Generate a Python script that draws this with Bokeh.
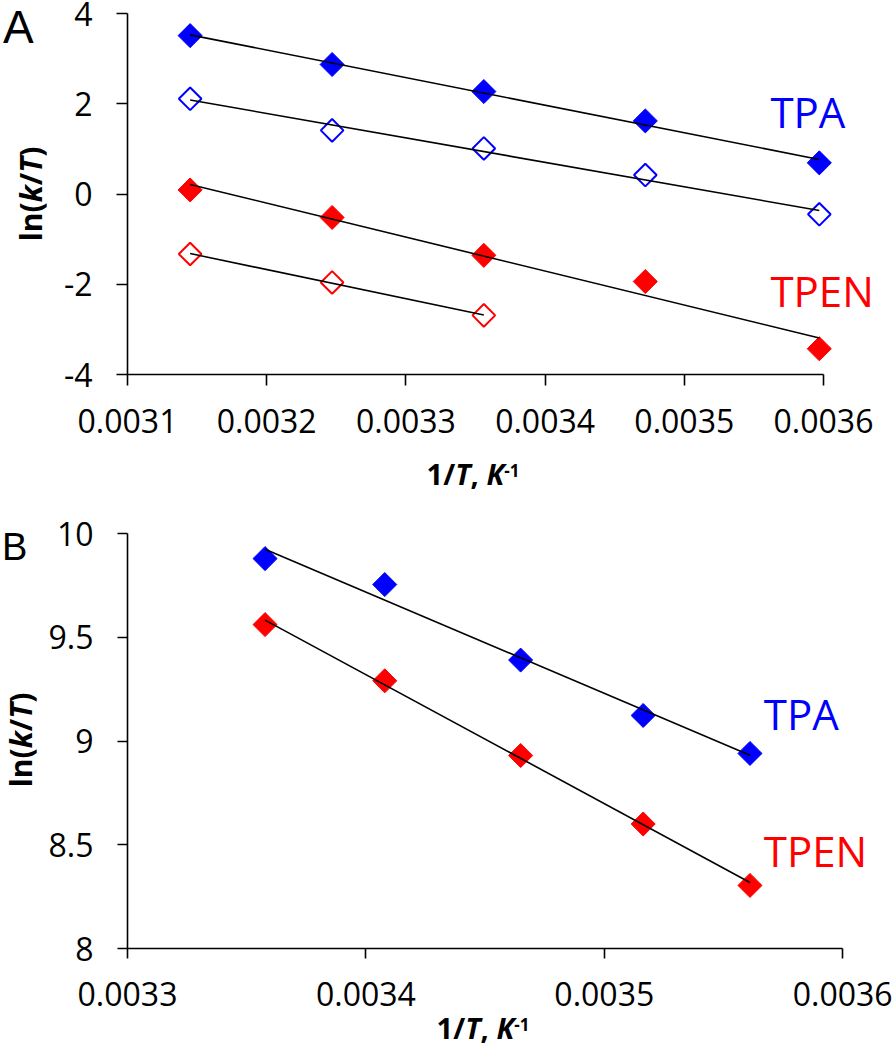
import numpy as np
from bokeh.plotting import figure
from bokeh.layouts import column
from bokeh.models import FixedTicker, Label, Div
from bokeh.embed import file_html
from bokeh.resources import INLINE

# ---------------- data ----------------
# Panel A
a_x = [0.003145, 0.003247, 0.003356, 0.003472, 0.003597]
a_tpa_filled = [3.51, 2.87, 2.27, 1.62, 0.69]
a_tpa_open = [2.11, 1.41, 1.01, 0.42, -0.45]
a_tpen_filled = [0.09, -0.52, -1.36, -1.94, -3.43]
a_tpen_open_x = [0.003145, 0.003247, 0.003356]
a_tpen_open = [-1.33, -1.96, -2.69]

a_xticks = [0.0031, 0.0032, 0.0033, 0.0034, 0.0035, 0.0036]
a_xtick_labels = ["0.0031", "0.0032", "0.0033", "0.0034", "0.0035", "0.0036"]
a_yticks = [-4, -2, 0, 2, 4]
a_ytick_labels = ["-4", "-2", "0", "2", "4"]

# Panel B
b_x = [0.0033577, 0.0034079, 0.0034649, 0.0035163, 0.0035611]
b_tpa = [9.879, 9.754, 9.39, 9.123, 8.94]
b_tpen = [9.561, 9.29, 8.93, 8.60, 8.304]

b_xticks = [0.0033, 0.0034, 0.0035, 0.0036]
b_xtick_labels = ["0.0033", "0.0034", "0.0035", "0.0036"]
b_yticks = [8, 8.5, 9, 9.5, 10]
b_ytick_labels = ["8", "8.5", "9", "9.5", "10"]

BLUE = "#0000FF"
RED = "#FF0000"
FONT = "Open Sans"


def style_axes(p, xticks, xlabels, yticks, ylabels, xbounds, tick_out):
    for ax in (p.xaxis[0], p.yaxis[0]):
        ax.axis_line_color = "black"
        ax.axis_line_width = 1.6
        ax.major_tick_line_color = "black"
        ax.major_tick_line_width = 1.6
        ax.major_tick_in = 0
        ax.major_tick_out = tick_out
        ax.minor_tick_in = 0
        ax.minor_tick_out = 0
        ax.major_label_text_font = FONT
        ax.major_label_text_font_size = "32px"
        ax.major_label_text_color = "black"
        ax.axis_label = None
    p.xaxis[0].ticker = FixedTicker(ticks=xticks)
    p.xaxis[0].major_label_overrides = dict(zip(xticks, xlabels))
    p.xaxis[0].bounds = xbounds
    p.xaxis[0].major_label_standoff = 23
    p.yaxis[0].ticker = FixedTicker(ticks=yticks)
    p.yaxis[0].major_label_overrides = dict(zip(yticks, ylabels))
    p.yaxis[0].major_label_standoff = 24
    p.xgrid.visible = False
    p.ygrid.visible = False
    p.outline_line_color = None
    p.background_fill_color = "white"
    p.border_fill_color = "white"


def fit_line(p, xs, ys):
    k, b = np.polyfit(xs, ys, 1)
    x0, x1 = xs[0], xs[-1]
    p.line([x0, x1], [k * x0 + b, k * x1 + b], line_color="black", line_width=1.6)


def diamonds(p, xs, ys, color, filled):
    if filled:
        p.scatter(xs, ys, marker="square", angle=np.pi / 4, size=17,
                  fill_color=color, line_color=color, line_width=1)
    else:
        p.scatter(xs, ys, marker="square", angle=np.pi / 4, size=16,
                  fill_color=None, line_color=color, line_width=2)


def add_series_label(p, x, y, text, color):
    p.add_layout(Label(x=x, y=y, text=text, text_font=FONT,
                       text_font_size="42px", text_color=color,
                       text_align="left", text_baseline="alphabetic"))


# ---------------- Panel A ----------------
pA = figure(width=893, height=500, output_backend="svg", toolbar_location=None,
            x_range=(0.0031, 0.0036503), y_range=(-4, 4),
            min_border_left=127, min_border_right=0, min_border_top=13,
            min_border_bottom=126)
style_axes(pA, a_xticks, a_xtick_labels, a_yticks, a_ytick_labels,
           (0.0031, 0.0036), 11)

diamonds(pA, a_x, a_tpa_filled, BLUE, True)
diamonds(pA, a_x, a_tpa_open, BLUE, False)
diamonds(pA, a_x, a_tpen_filled, RED, True)
diamonds(pA, a_tpen_open_x, a_tpen_open, RED, False)
fit_line(pA, a_x, a_tpa_filled)
fit_line(pA, a_x, a_tpa_open)
fit_line(pA, a_x, a_tpen_filled)
fit_line(pA, a_tpen_open_x, a_tpen_open)

add_series_label(pA, 0.0035619, 1.83, "TPA", BLUE)
add_series_label(pA, 0.0035619, -2.14, "TPEN", RED)

# ---------------- Panel B ----------------
pB = figure(width=893, height=550, output_backend="svg", toolbar_location=None,
            x_range=(0.0033, 0.0036213), y_range=(8, 10),
            min_border_left=125, min_border_right=0, min_border_top=33,
            min_border_bottom=102)
style_axes(pB, b_xticks, b_xtick_labels, b_yticks, b_ytick_labels,
           (0.0033, 0.0036), 10)

diamonds(pB, b_x, b_tpa, BLUE, True)
diamonds(pB, b_x, b_tpen, RED, True)
fit_line(pB, b_x, b_tpa)
fit_line(pB, b_x, b_tpen)

add_series_label(pB, 0.0035669, 9.133, "TPA", BLUE)
add_series_label(pB, 0.0035669, 8.472, "TPEN", RED)

# ---------------- overlay texts (panel letters and axis titles) ----------------
XLAB = ('<b>1/<i>T</i>, <i>K</i><span style="font-size:17px;'
        'vertical-align:8px;">-1</span></b>')
YLAB = '<b>ln(<i>k</i>/<i>T</i>)</b>'


def span(left, top, size, inner, transform="none", font="'Open Sans'"):
    return (f'<div style="position:absolute;left:{left}px;top:{top}px;'
            f'font-family:{font};font-size:{size}px;transform:{transform};">'
            f'{inner}</div>')


overlay_html = (
    '<div style="position:relative;width:893px;height:1050px;margin:0;padding:0;'
    "font-family:'Open Sans';color:black;line-height:1;white-space:nowrap;\">"
    + span(3, 4, 46, "A", font="'Liberation Sans'")
    + span(2, 528, 38, "B", font="'Liberation Sans'")
    + span(473, 459, 29, XLAB, "translateX(-50%)")
    + span(483, 1013, 29, XLAB, "translateX(-50%)")
    + span(31, 194, 30, YLAB, "translate(-50%,-50%) rotate(-90deg)")
    + span(21, 740, 30, YLAB, "translate(-50%,-50%) rotate(-90deg)")
    + "</div>"
)
overlay = Div(text=overlay_html, width=893, height=1050, margin=0,
              styles={"position": "absolute", "left": "0px", "top": "0px",
                      "margin": "0px", "padding": "0px",
                      "pointer-events": "none", "z-index": "10"})

layout = column(pA, pB, overlay, spacing=0)
open("out.html", "w").write(file_html(layout, INLINE))
